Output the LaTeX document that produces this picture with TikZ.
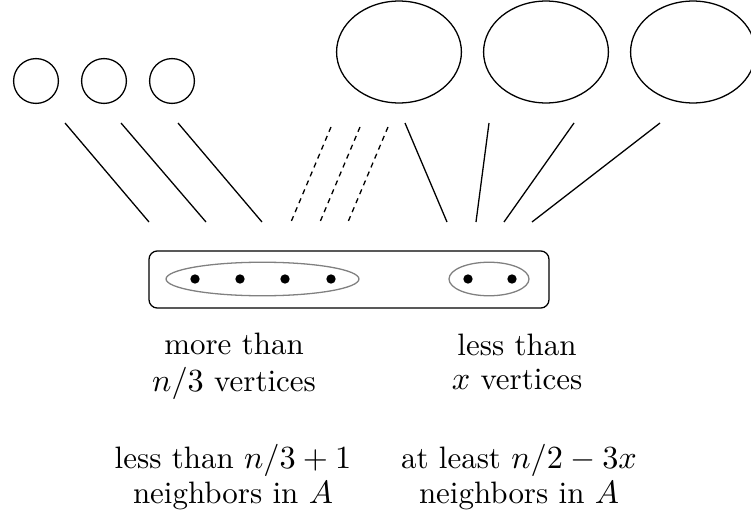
\documentclass[tikz,border=0pt]{standalone}
\usepackage{amsmath,amssymb}
\usepackage{tikz}
\usetikzlibrary{shapes.geometric, positioning}
\tikzstyle{smallset} = [circle, draw=black, inner sep=0pt, minimum size=13.9pt]
\tikzstyle{bigset} = [ellipse, draw=black, inner sep=0pt, minimum width=38.7pt, minimum height=31.6pt]
\tikzstyle{outer} = [rectangle, rounded corners=2.6pt, draw=black, inner sep=0pt, minimum width=124pt, minimum height=17.7pt]
\tikzstyle{group} = [ellipse, draw=gray, inner sep=0pt, minimum height=10.4pt]
\tikzstyle{dot} = [circle, fill=black, inner sep=0pt, minimum size=2.9pt]
\tikzstyle{dashes} = [dash pattern=on 1.6pt off 1.4pt]
\tikzstyle{caption} = [align=center, inner sep=0pt]

\begin{document}
\begin{tikzpicture}[x=0.31pt, y=-0.31pt, font=\fontsize{9.6}{10.6}\selectfont]
      \useasboundingbox (0,0) rectangle (751,517);

      % Nodes
      \foreach \i/\x in {1/36,2/104,3/172}
        \node (s\i) [smallset] at (\x,81) {};
      \foreach \i/\x in {1/399,2/546,3/693}
        \node (b\i) [bigset] at (\x,52) {};

      \node (box) [outer] at (349,279.5) {};
      \node (left) [group, minimum width=59.8pt] at (262.5,279) {};
      \node (right) [group, minimum width=24.8pt] at (489,279) {};
      \foreach \i/\x in {1/195,2/240,3/285,4/331,5/468,6/512}
        \node (v\i) [dot] at (\x,279) {};

      \node (lcount) [caption] at (234,366) {\strut more than\\\strut$n/3$ vertices};
      \node (rcount) [caption] at (517,366) {\strut less than\\\strut$x$ vertices};
      \node (ldeg) [caption] at (233,479) {\strut less than $n/3+1$\\\strut neighbors in $A$};
      \node (rdeg) [caption] at (519,479) {\strut at least $n/2-3x$\\\strut neighbors in $A$};

      % Line ends
      \foreach \i/\xt/\yt/\xb in {1/65/123/149, 2/121/123/206, 3/178/123/262,
          4/331/127/291, 5/360/127/320, 6/388/127/348,
          7/405/123/447, 8/489/123/476, 9/574/123/504, 10/660/123/532}
      {
        \coordinate (t\i) at (\xt,\yt);
        \coordinate (e\i) at (\xb,222);
      }

      % Edges
      \foreach \i in {1,2,3,7,8,9,10}
        \draw (t\i) -- (e\i);
      \foreach \i in {4,5,6}
        \draw [dashes] (t\i) -- (e\i);

\end{tikzpicture}
\end{document}
